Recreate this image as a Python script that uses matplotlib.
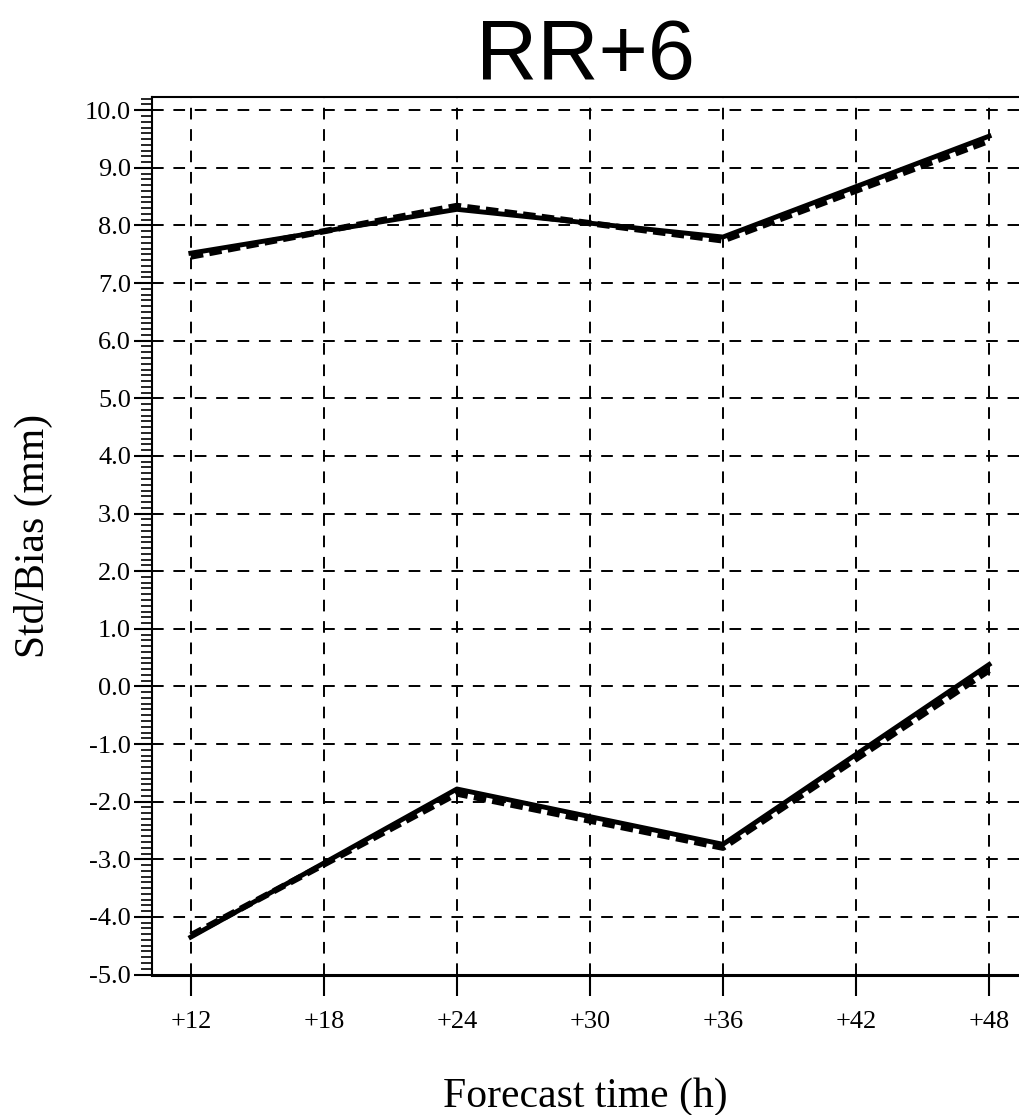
import numpy as np
from matplotlib import pyplot as plt
from matplotlib.ticker import MultipleLocator


forecast_time = [12, 24, 36, 48]
x_ticks = [12, 18, 24, 30, 36, 42, 48]
x_tick_labels = ['+12', '+18', '+24', '+30', '+36', '+42', '+48']

std_exp1 = [7.52, 8.28, 7.80, 9.55]
std_exp2 = [7.46, 8.34, 7.74, 9.47]
bias_exp1 = [-4.35, -1.78, -2.74, 0.38]
bias_exp2 = [-4.32, -1.86, -2.80, 0.28]


def main():
    fig = plt.figure(figsize=(10.19, 11.15), dpi=100)
    ax = fig.add_axes([0.149, 0.126, 0.851, 0.787])

    ax.plot(forecast_time, std_exp2, color='black', lw=4.5, ls=(0, (2, 1)))
    ax.plot(forecast_time, std_exp1, color='black', lw=3.5)
    ax.plot(forecast_time, bias_exp2, color='black', lw=4.5, ls=(0, (2, 1)))
    ax.plot(forecast_time, bias_exp1, color='black', lw=3.5)

    ax.set_xlim(10.24, 49.35)
    ax.set_ylim(-5.0, 10.23)
    ax.set_xticks(x_ticks)
    ax.set_xticklabels(x_tick_labels)
    ax.set_yticks(np.arange(-5, 11, 1))
    ax.set_yticklabels([f'{v:.1f}' for v in range(-5, 11)])
    ax.yaxis.set_minor_locator(MultipleLocator(0.1))

    ax.tick_params(axis='y', which='major', direction='out', length=13, width=1.5,
                   pad=2, labelsize=19)
    ax.tick_params(axis='y', which='minor', direction='out', length=8, width=1.2)
    ax.tick_params(axis='x', which='major', direction='out', length=15, width=1.5,
                   pad=11, labelsize=19)
    for lab in ax.get_xticklabels() + ax.get_yticklabels():
        lab.set_fontfamily('Liberation Serif')

    ax.grid(True, color='black', ls=(0, (6, 5)), lw=1.4)
    ax.spines['right'].set_visible(False)
    ax.spines['bottom'].set_linewidth(2.2)
    ax.spines['top'].set_linewidth(1.5)
    ax.spines['left'].set_linewidth(1.5)

    ax.set_ylabel('Std/Bias (mm)', fontsize=30, family='Liberation Serif', labelpad=23)
    ax.set_xlabel('Forecast time (h)', fontsize=30, family='Liberation Serif', labelpad=32)
    ax.set_title('RR+6', fontsize=61, family='Liberation Sans', pad=4)

    fig.savefig('out.png', dpi=100)


if __name__ == '__main__':
    main()
